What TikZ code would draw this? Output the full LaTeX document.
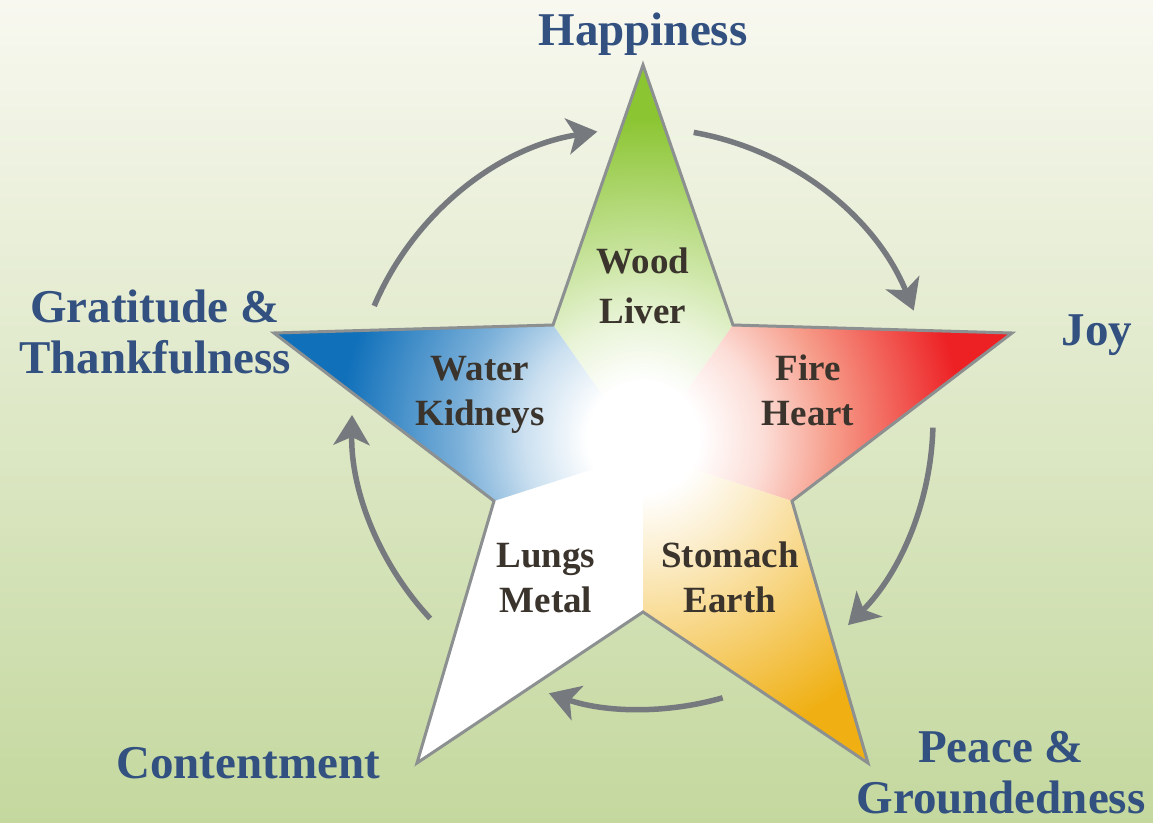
\documentclass[tikz,border=0pt]{standalone}
\usepackage{fontspec}
\setmainfont{Liberation Serif}
\usetikzlibrary{arrows.meta,calc}

% palette
\definecolor{bgtop}{RGB}{248,248,240}
\definecolor{bgmid}{RGB}{228,235,204}
\definecolor{bgbot}{RGB}{196,216,158}
\definecolor{labelblue}{RGB}{50,80,128}
\definecolor{innerbrown}{RGB}{58,52,45}
\definecolor{arrowgray}{RGB}{118,122,126}
\definecolor{rimgray}{RGB}{140,144,144}
\definecolor{woodgreen}{RGB}{139,197,50}
\definecolor{firered}{RGB}{237,32,36}
\definecolor{firesalmon}{RGB}{243,120,95}
\definecolor{waterblue}{RGB}{16,112,186}
\definecolor{earthorange}{RGB}{240,176,20}
\colorlet{woodfaint}{woodgreen!20!white}
\colorlet{woodhalf}{woodgreen!50!white}
\colorlet{firefaint}{firesalmon!25!white}
\colorlet{firehalf}{firesalmon!75!white}
\colorlet{waterfaint}{waterblue!22!white}
\colorlet{waterhalf}{waterblue!55!white}
\colorlet{earthfaint}{earthorange!22!white}
\colorlet{earthhalf}{earthorange!50!white}

% radial glows: white core, element colour towards the tip
\pgfdeclareradialshading{woodglow}{\pgfpointorigin}{color(0bp)=(white); color(3.5bp)=(white); color(7.5bp)=(woodfaint); color(12bp)=(woodhalf); color(20bp)=(woodgreen); color(50bp)=(woodgreen)}
\pgfdeclareradialshading{fireglow}{\pgfpointorigin}{color(0bp)=(white); color(3.5bp)=(white); color(7.5bp)=(firefaint); color(12bp)=(firehalf); color(20bp)=(firered); color(50bp)=(firered)}
\pgfdeclareradialshading{waterglow}{\pgfpointorigin}{color(0bp)=(white); color(3.5bp)=(white); color(7.5bp)=(waterfaint); color(11.5bp)=(waterhalf); color(19bp)=(waterblue); color(50bp)=(waterblue)}
\pgfdeclareradialshading{earthglow}{\pgfpointorigin}{color(0bp)=(white); color(3.5bp)=(white); color(7.5bp)=(earthfaint); color(12bp)=(earthhalf); color(20bp)=(earthorange); color(50bp)=(earthorange)}

\begin{document}
\begin{tikzpicture}[x=1pt,y=-1pt,
  cycarrow/.style={draw=arrowgray, line width=5.5pt,
    -{Stealth[length=30pt,width=36pt,inset=8pt]}},
  outerlabel/.style={text=labelblue, inner sep=0pt, align=center,
    font=\fontsize{47}{51}\selectfont\bfseries},
  innerlabel/.style={text=innerbrown, inner sep=0pt, align=center,
    font=\fontsize{37}{45}\selectfont\bfseries},
  rim/.style={draw=rimgray, line width=3pt, line join=miter}]

\useasboundingbox (0,0) rectangle (1153,822);
\shade[top color=bgtop, middle color=bgmid, bottom color=bgbot]
  (0,0) rectangle (1153,822);

% star vertices
\coordinate (C)  at (643,453);
\coordinate (G)  at (643,438);
\coordinate (T)  at (643,65);
\coordinate (I1) at (733,325);
\coordinate (R)  at (1012,333);
\coordinate (I2) at (792,501);
\coordinate (BR) at (868,763);
\coordinate (I3) at (643,612);
\coordinate (BL) at (417,763);
\coordinate (I4) at (494,501);
\coordinate (L)  at (274,333);
\coordinate (I5) at (553,325);

% star body
\fill[white] (T) -- (I1) -- (R) -- (I2) -- (BR) -- (I3) -- (BL) -- (I4) -- (L) -- (I5) -- cycle;
\begin{scope}
  \clip (C) -- (I5) -- (T) -- (I1) -- cycle;
  \shade[shading=woodglow] (G) circle (400);
\end{scope}
\begin{scope}
  \clip (C) -- (I1) -- (R) -- (I2) -- cycle;
  \shade[shading=fireglow] (G) circle (400);
\end{scope}
\begin{scope}
  \clip (C) -- (I2) -- (BR) -- (I3) -- cycle;
  \shade[shading=earthglow] (G) circle (400);
\end{scope}
\begin{scope}
  \clip (C) -- (I4) -- (L) -- (I5) -- cycle;
  \shade[shading=waterglow] (G) circle (400);
\end{scope}
\draw[rim] (T) -- (I1) -- (R) -- (I2) -- (BR) -- (I3) -- (BL) -- (I4) -- (L) -- (I5) -- cycle;

% element labels
\node[innerlabel, anchor=base, font=\fontsize{37}{50}\selectfont\bfseries] (wood) at (643,323) {Wood\\Liver};
\node[innerlabel, anchor=base] (fire)  at (808,425) {Fire\\Heart};
\node[innerlabel, anchor=base] (earth) at (730,612) {Stomach\\Earth};
\node[innerlabel, anchor=base] (metal) at (546,612) {Lungs\\Metal};
\node[innerlabel, anchor=base] (water) at (480,425) {Water\\Kidneys};

% emotion labels
\node[outerlabel, anchor=base] (happy) at (643,45)   {Happiness};
\node[outerlabel, anchor=base] (joy)   at (1097,345) {Joy};
\node[outerlabel, anchor=base] (peace) at (1001,813) {Peace \&\\Groundedness};
\node[outerlabel, anchor=base] (cont)  at (248,778)  {Contentment};
\node[outerlabel, anchor=base] (grat)  at (155,373)  {Gratitude \&\\Thankfulness};

% cycle arrows around the star
\coordinate (ac) at (643,420);
\draw[cycarrow] ($(ac)+(-157:292)$) arc[start angle=-157, end angle=-99, radius=292];
\draw[cycarrow] ($(ac)+(-80:292)$)  arc[start angle=-80,  end angle=-22, radius=292];
\draw[cycarrow] ($(ac)+(1.5:290)$)  arc[start angle=1.5,  end angle=45,  radius=290];
\draw[cycarrow] ($(ac)+(74:289)$)   arc[start angle=74,   end angle=109, radius=289];
\draw[cycarrow] ($(ac)+(137:291)$)  arc[start angle=137,  end angle=181, radius=291];
\end{tikzpicture}
\end{document}
